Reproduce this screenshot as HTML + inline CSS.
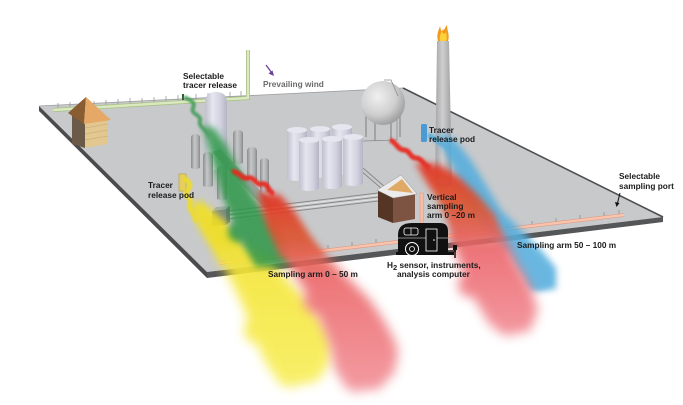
<!DOCTYPE html>
<html><head><meta charset="utf-8">
<style>
html,body{margin:0;padding:0;background:#fff;}
svg{display:block;}
text{font-family:"Liberation Sans",sans-serif;font-weight:bold;font-size:8.3px;fill:#1b1b1b;}
</style></head><body>
<svg width="683" height="405" viewBox="0 0 683 405" xmlns="http://www.w3.org/2000/svg">
<defs>
<filter id="b1" x="-50%" y="-50%" width="200%" height="200%"><feGaussianBlur stdDeviation="1.1"/></filter>
<filter id="b3" x="-50%" y="-50%" width="200%" height="200%"><feGaussianBlur stdDeviation="3.5"/></filter>
<filter id="b5" x="-50%" y="-50%" width="200%" height="200%"><feGaussianBlur stdDeviation="5.5"/></filter>
<linearGradient id="cylG" x1="0" x2="1" y1="0" y2="0">
<stop offset="0" stop-color="#8c8d8f"/><stop offset="0.4" stop-color="#c6c7c9"/><stop offset="0.75" stop-color="#adaeb0"/><stop offset="1" stop-color="#88898b"/>
</linearGradient>
<linearGradient id="tankG" x1="0" x2="1" y1="0" y2="0">
<stop offset="0" stop-color="#bfbfce"/><stop offset="0.35" stop-color="#e6e6f0"/><stop offset="0.7" stop-color="#d2d2e0"/><stop offset="1" stop-color="#b4b4c4"/>
</linearGradient>
<linearGradient id="chimG" x1="0" x2="1" y1="0" y2="0">
<stop offset="0" stop-color="#a4a4a6"/><stop offset="0.45" stop-color="#cfcfd0"/><stop offset="1" stop-color="#9c9c9e"/>
</linearGradient>
<radialGradient id="sphG" cx="0.38" cy="0.35" r="0.7">
<stop offset="0" stop-color="#f0f0f0"/><stop offset="0.6" stop-color="#cfcfcf"/><stop offset="1" stop-color="#9a9a9a"/>
</radialGradient>
<linearGradient id="redL" gradientUnits="userSpaceOnUse" x1="0" y1="185" x2="0" y2="390">
<stop offset="0" stop-color="#e52a20"/><stop offset="0.25" stop-color="#dc5530"/><stop offset="0.45" stop-color="#ec6a6c"/><stop offset="1" stop-color="#f2939a"/>
</linearGradient>
<linearGradient id="redR" gradientUnits="userSpaceOnUse" x1="0" y1="150" x2="0" y2="335">
<stop offset="0" stop-color="#e52a20"/><stop offset="0.3" stop-color="#dc5530"/><stop offset="0.55" stop-color="#ec6a70"/><stop offset="1" stop-color="#f29098"/>
</linearGradient>
<linearGradient id="yelG" gradientUnits="userSpaceOnUse" x1="0" y1="200" x2="0" y2="385">
<stop offset="0" stop-color="#f2e024"/><stop offset="1" stop-color="#f8ee5a"/>
</linearGradient>
</defs>

<rect width="683" height="405" fill="#fff"/>

<!-- platform -->
<polygon points="39,106 403,88 663,217 207,272" fill="#c8c9cb"/>
<polygon points="39,106 207,272 207,278 39,111" fill="#4b4b4d"/>
<polygon points="207,272 663,217 663,222 207,278" fill="#555658"/>
<line x1="403" y1="88" x2="663" y2="217" stroke="#4e4e50" stroke-width="1.6"/>
<line x1="39" y1="106" x2="403" y2="88" stroke="#9c9d9f" stroke-width="0.8"/>

<!-- back rail posts -->
<g stroke="#9a9a9a" stroke-width="0.8">
<line x1="58" y1="109" x2="58" y2="103"/><line x1="70" y1="108" x2="70" y2="102"/><line x1="82" y1="107" x2="82" y2="101"/>
<line x1="94" y1="107" x2="94" y2="101"/><line x1="106" y1="106" x2="106" y2="100"/><line x1="118" y1="105" x2="118" y2="99"/>
<line x1="130" y1="104" x2="130" y2="98"/><line x1="142" y1="104" x2="142" y2="98"/><line x1="154" y1="103" x2="154" y2="97"/>
<line x1="166" y1="102" x2="166" y2="96"/><line x1="178" y1="101" x2="178" y2="95"/><line x1="196" y1="100" x2="196" y2="94"/>
<line x1="208" y1="99" x2="208" y2="93"/><line x1="230" y1="98" x2="230" y2="92"/><line x1="241" y1="97" x2="241" y2="91"/>
</g>
<polyline points="53,110 248,98 248,50" fill="none" stroke="#a9c184" stroke-width="4"/>
<polyline points="53,110 248,98 248,50" fill="none" stroke="#dbe9c0" stroke-width="2.4"/>
<rect x="182" y="94" width="2" height="6" fill="#2d5a35"/>

<!-- house 1 -->
<polygon points="72,115 85,122 85,148 72,144" fill="#6b5a47"/>
<polygon points="85,122 108,118 108,144 85,148" fill="#e2c790"/>
<g stroke="#c4a676" stroke-width="0.5">
<line x1="85" y1="128" x2="108" y2="124"/><line x1="85" y1="134" x2="108" y2="130"/><line x1="85" y1="140" x2="108" y2="136"/>
</g>
<polygon points="68,113 86,97 84,124" fill="#8a5c32"/>
<polygon points="86,97 111,120 84,124" fill="#e6a866"/>

<!-- tall white tank -->
<path d="M205,170 L205,103 Q205,92 216,92 Q227,92 227,103 L227,170 Z" fill="url(#tankG)"/>

<!-- diagonal duct -->
<polygon points="212,152 220,149 276,207 268,212" fill="#9aa59e"/>

<!-- gray cylinders -->
<g fill="url(#cylG)">
<path d="M191,168 L191,138 Q191,134 195.5,134 Q200,134 200,138 L200,168 Q195.5,170 191,168Z"/>
<path d="M233,163 L233,134 Q233,130 238,130 Q243,130 243,134 L243,163 Q238,165 233,163Z"/>
<path d="M203,186 L203,156 Q203,152 208,152 Q213,152 213,156 L213,186 Q208,188 203,186Z"/>
<path d="M247,180 L247,151 Q247,147 252,147 Q257,147 257,151 L257,180 Q252,182 247,180Z"/>
<path d="M217,199 L217,170 Q217,166 222,166 Q227,166 227,170 L227,199 Q222,201 217,199Z"/>
<path d="M260,192 L260,162 Q260,158 264.5,158 Q269,158 269,162 L269,192 Q264.5,194 260,192Z"/>
</g>

<!-- pipe rack -->
<g stroke="#8a8a8a" stroke-width="1">
<line x1="228" y1="211" x2="378" y2="193"/><line x1="228" y1="215" x2="378" y2="197"/><line x1="228" y1="219" x2="378" y2="201"/>
<line x1="360" y1="170" x2="382" y2="189"/><line x1="363" y1="168" x2="385" y2="187"/>
</g>
<g stroke="#e4e4e4" stroke-width="1">
<line x1="228" y1="213" x2="378" y2="195"/><line x1="228" y1="217" x2="378" y2="199"/>
</g>

<!-- gray box -->
<polygon points="212,211 226,209 226,225 212,226" fill="#7f8b86"/>
<polygon points="212,211 216,207 230,206 226,209" fill="#a3ada8"/>
<polygon points="226,209 230,206 230,222 226,225" fill="#6c7772"/>

<!-- big tanks -->
<g>
<path d="M287,130 L287,178 A10,3 0 0 0 307,178 L307,130Z" fill="url(#tankG)"/><ellipse cx="297" cy="130" rx="10" ry="3" fill="#e6e6f0"/>
<path d="M310,129 L310,175 A10,3 0 0 0 330,175 L330,129Z" fill="url(#tankG)"/><ellipse cx="320" cy="129" rx="10" ry="3" fill="#e6e6f0"/>
<path d="M332,127 L332,172 A10,3 0 0 0 352,172 L352,127Z" fill="url(#tankG)"/><ellipse cx="342" cy="127" rx="10" ry="3" fill="#e6e6f0"/>
<path d="M299,140 L299,188 A10,3 0 0 0 319,188 L319,140Z" fill="url(#tankG)"/><ellipse cx="309" cy="140" rx="10" ry="3" fill="#e6e6f0"/>
<path d="M322,139 L322,186 A10,3 0 0 0 342,186 L342,139Z" fill="url(#tankG)"/><ellipse cx="332" cy="139" rx="10" ry="3" fill="#e6e6f0"/>
<path d="M343,137 L343,183 A10,3 0 0 0 363,183 L363,137Z" fill="url(#tankG)"/><ellipse cx="353" cy="137" rx="10" ry="3" fill="#e6e6f0"/>
</g>

<!-- sphere -->
<g stroke="#8a8a8a" stroke-width="1.2">
<line x1="366" y1="110" x2="366" y2="137"/><line x1="375" y1="118" x2="375" y2="141"/>
<line x1="391" y1="118" x2="391" y2="141"/><line x1="400" y1="110" x2="400" y2="137"/>
</g>
<g stroke="#8d8d8f" stroke-width="0.8" fill="none">
<line x1="397" y1="90" x2="397" y2="140"/><line x1="363" y1="141" x2="397" y2="140"/>
</g>
<circle cx="383" cy="103" r="22" fill="url(#sphG)"/>
<polyline points="384,80 391,80 398,96" fill="none" stroke="#8a8a8a" stroke-width="0.8"/>

<!-- chimney -->
<polygon points="437,41 449,41 452,185 435,185" fill="url(#chimG)"/>
<ellipse cx="443.5" cy="185" rx="8.5" ry="2" fill="#a0a0a2"/>
<path d="M438,41 C436,34 439,30 440,26 C441,31 442,33 443,29 C444,32 445,27 447,25 C447,31 450,35 448,41 Z" fill="#f39a1e"/>
<path d="M440,41 C439,36 441,33 442,31 C443,35 445,34 446,32 C447,36 447,39 446,41Z" fill="#fcd23a"/>

<!-- pods -->
<rect x="421" y="124" width="6" height="18" rx="1.5" fill="#4b9ad3"/>
<rect x="179" y="174" width="7" height="17" fill="#e6cf5c" stroke="#b89c30" stroke-width="0.6"/>

<!-- house 2 -->
<polygon points="378,191 393,197 393,223 378,217" fill="#553626"/>
<polygon points="393,197 415,193 415,219 393,223" fill="#7d5442"/>
<polygon points="377,190 401,175 417,194 393,198" fill="#ececec" stroke="#999" stroke-width="0.5"/>
<polygon points="387,190 402,179 413,193" fill="#dfaa66"/>

<!-- vertical arm -->
<rect x="420" y="193" width="3.5" height="48" fill="#f5bca6" stroke="#d89a85" stroke-width="0.5"/>

<!-- front sampling bar & posts -->
<g stroke="#8e8e8e" stroke-width="0.8">
<line x1="232" y1="261" x2="232" y2="256"/><line x1="256" y1="258" x2="256" y2="253"/><line x1="280" y1="256" x2="280" y2="251"/>
<line x1="304" y1="253" x2="304" y2="248"/><line x1="328" y1="250" x2="328" y2="245"/><line x1="352" y1="247" x2="352" y2="242"/>
<line x1="376" y1="244" x2="376" y2="239"/><line x1="460" y1="234" x2="460" y2="229"/><line x1="484" y1="231" x2="484" y2="226"/>
<line x1="508" y1="229" x2="508" y2="224"/><line x1="532" y1="226" x2="532" y2="221"/><line x1="556" y1="223" x2="556" y2="218"/>
<line x1="580" y1="220" x2="580" y2="215"/><line x1="604" y1="217" x2="604" y2="212"/><line x1="619" y1="215" x2="619" y2="210"/>
</g>
<line x1="220" y1="263" x2="624" y2="215" stroke="#e0957c" stroke-width="3.6"/>
<line x1="220" y1="263" x2="624" y2="215" stroke="#f8c4ae" stroke-width="2.4"/>

<!-- yellow plume -->
<g opacity="0.9">
<polygon filter="url(#b3)" fill="#f2e024" points="191,205 197,225 209,245 222,262 250,262 240,240 226,222 210,208 200,200"/>
<g filter="url(#b5)" fill="url(#yelG)">
<polygon points="214,250 228,275 238,295 248,318 256,340 264,360 276,378 294,386 318,381 330,362 331,338 318,315 302,295 286,278 268,258 250,245"/>
<circle cx="258" cy="330" r="14"/><circle cx="318" cy="345" r="14"/><circle cx="290" cy="372" r="15"/>
</g>
<path filter="url(#b1)" d="M184,178 C190,182 192,186 187,191 C183,196 193,198 190,204 C188,210 196,212 196,222" fill="none" stroke="#f0dd20" stroke-width="5"/>
</g>
<!-- green plume -->
<g opacity="0.85">
<polygon filter="url(#b3)" fill="#2f9748" points="203,125 208,145 215,170 222,195 232,220 243,245 256,267 292,266 286,245 270,220 252,195 239,170 226,145 214,128"/>
<circle filter="url(#b3)" cx="238" cy="232" r="10" fill="#2f9748"/>
<path filter="url(#b1)" d="M184,97 C190,100 196,102 193,108 C190,114 202,115 200,121 C198,127 208,130 210,138" fill="none" stroke="#3d9a55" stroke-width="4"/>
</g>
<!-- red left plume -->
<g opacity="0.92">
<polygon filter="url(#b3)" fill="url(#redL)" points="258,192 262,210 268,230 280,255 298,262 328,258 310,235 295,212 280,195"/>
<g filter="url(#b5)" fill="url(#redL)">
<polygon points="280,250 295,275 308,295 320,320 330,345 335,370 347,389 378,390 395,372 397,345 385,322 370,300 350,280 328,258"/>
<circle cx="318" cy="300" r="14"/><circle cx="383" cy="355" r="15"/><circle cx="357" cy="378" r="14"/>
</g>
<path filter="url(#b1)" d="M232,172 C238,170 242,180 248,178 C254,176 256,186 262,184 C268,182 268,192 274,194" fill="none" stroke="#e8281e" stroke-width="5"/>
</g>
<!-- blue plume -->
<g opacity="0.88">
<polygon filter="url(#b3)" fill="#55aede" points="438,140 452,165 462,190 475,215 490,235 508,255 520,275 530,291 556,289 556,268 541,250 521,230 501,210 486,185 471,160 455,140 440,132"/>
<circle filter="url(#b3)" cx="540" cy="278" r="11" fill="#55aede"/>
<path filter="url(#b1)" d="M428,135 C434,137 438,142 444,145 C450,148 452,154 456,160" fill="none" stroke="#55aede" stroke-width="5"/>
</g>
<!-- red right plume -->
<g opacity="0.92">
<polygon filter="url(#b3)" fill="url(#redR)" points="415,162 425,180 438,200 448,222 455,245 505,240 495,215 478,195 460,178 440,165"/>
<g filter="url(#b5)" fill="url(#redR)">
<polygon points="450,235 462,270 475,300 490,325 505,336 530,331 538,310 530,285 516,262 505,238"/>
<circle cx="470" cy="285" r="12"/><circle cx="520" cy="318" r="13"/>
</g>
<path filter="url(#b1)" d="M390,140 C396,142 398,150 404,150 C410,150 410,158 416,158 C422,158 424,166 430,168" fill="none" stroke="#e8281e" stroke-width="5"/>
</g>

<!-- trailer -->
<path d="M398,253 L398,235 Q398,223 412,223 L440,223 Q448,223 448,231 L448,253 Z" fill="#111"/>
<line x1="398" y1="238" x2="448" y2="238" stroke="#fff" stroke-width="0.6"/>
<rect x="404" y="228" width="14" height="7" rx="2" fill="#111" stroke="#fff" stroke-width="0.8"/>
<line x1="411" y1="228" x2="411" y2="235" stroke="#fff" stroke-width="0.7"/>
<rect x="426" y="229" width="11" height="22" fill="#111" stroke="#fff" stroke-width="0.8"/>
<circle cx="434" cy="240" r="0.8" fill="#fff"/>
<rect x="396" y="252" width="58" height="3" fill="#111"/>
<circle cx="412" cy="249" r="6.5" fill="#111" stroke="#fff" stroke-width="1"/>
<circle cx="412" cy="249" r="2.5" fill="none" stroke="#fff" stroke-width="0.8"/>
<line x1="448" y1="251" x2="456" y2="251" stroke="#111" stroke-width="1.5"/>
<rect x="453" y="245" width="4" height="5" fill="#111"/>
<line x1="455" y1="245" x2="455" y2="258" stroke="#111" stroke-width="1.5"/>

<!-- labels -->
<text x="183" y="79">Selectable</text>
<text x="183" y="88">tracer release</text>
<text x="263" y="87" style="fill:#6b6b6b">Prevailing wind</text>
<line x1="266" y1="65" x2="271.5" y2="72.5" stroke="#6a3f9c" stroke-width="1.3"/>
<polygon points="274,76 268.5,73.5 272.5,70.5" fill="#6a3f9c"/>
<text x="148" y="188">Tracer</text>
<text x="148" y="198">release pod</text>
<text x="429" y="133">Tracer</text>
<text x="429" y="142">release pod</text>
<text x="619" y="179">Selectable</text>
<text x="619" y="189">sampling port</text>
<line x1="620" y1="193" x2="617.5" y2="203" stroke="#111" stroke-width="1"/>
<polygon points="616.5,207 615,202 619.5,203" fill="#111"/>
<text x="427" y="200">Vertical</text>
<text x="427" y="209">sampling</text>
<text x="427" y="218">arm 0 –20 m</text>
<text x="517" y="248">Sampling arm 50 – 100 m</text>
<text x="268" y="277">Sampling arm 0 – 50 m</text>
<text x="387" y="268">H<tspan dy="2" font-size="7.5">2</tspan><tspan dy="-2"> sensor, instruments,</tspan></text>
<text x="397" y="277">analysis computer</text>
</svg>
</body></html>
